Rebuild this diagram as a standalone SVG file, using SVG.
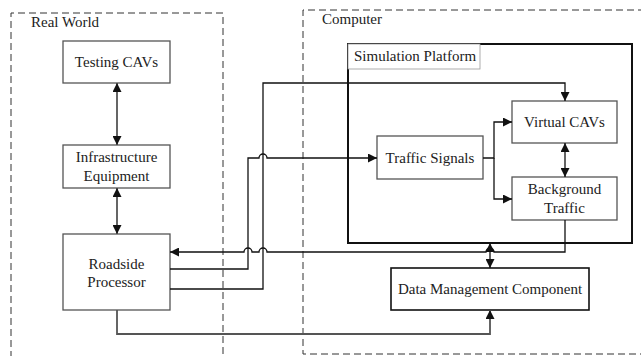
<svg xmlns="http://www.w3.org/2000/svg" width="641" height="356" viewBox="0 0 641 356">
<style>
text{font-family:"Liberation Serif","Times New Roman",serif;font-size:15px;fill:#222}
.box{fill:#fff;stroke:#555;stroke-width:1.3}
.dash{fill:none;stroke:#333;stroke-width:1;stroke-dasharray:7,4}
.con{fill:none;stroke:#111;stroke-width:1.3}
.gcon{fill:none;stroke:#555;stroke-width:1.8}
</style>
<defs>
<marker id="ah" viewBox="0 0 10 10" refX="10" refY="5" markerWidth="9" markerHeight="9" markerUnits="userSpaceOnUse" orient="auto-start-reverse">
<path d="M0,0 L10,5 L0,10 z" fill="#111"/>
</marker>
</defs>
<rect width="641" height="356" fill="#fff"/>
<g id="real-world">
<path class="dash" d="M11,358 V13 H223 V358"/>
<text x="31" y="27">Real World</text>
</g>
<g id="computer">
<path class="dash" d="M645,10 H303 V354 H645"/>
<text x="322" y="24">Computer</text>
</g>
<g id="simulation-platform">
<rect x="348" y="44" width="284" height="199" fill="#fff" stroke="#111" stroke-width="2"/>
<rect x="348" y="44" width="132" height="25" fill="#fff" stroke="#999" stroke-width="0.8"/>
<text x="354" y="61">Simulation Platform</text>
</g>
<g id="testing-cavs">
<rect class="box" x="63" y="41" width="107" height="42"/>
<text x="116.5" y="67" text-anchor="middle">Testing CAVs</text>
</g>
<g id="infrastructure-equipment">
<rect class="box" x="63" y="145" width="107" height="43"/>
<text x="116.5" y="162" text-anchor="middle">Infrastructure</text>
<text x="116.5" y="181" text-anchor="middle">Equipment</text>
</g>
<g id="roadside-processor">
<rect class="box" x="63" y="234" width="107" height="76"/>
<text x="116.5" y="269" text-anchor="middle">Roadside</text>
<text x="116.5" y="287" text-anchor="middle">Processor</text>
</g>
<g id="traffic-signals">
<rect class="box" x="377" y="136" width="106" height="43"/>
<text x="430" y="163" text-anchor="middle">Traffic Signals</text>
</g>
<g id="virtual-cavs">
<rect class="box" x="512" y="101" width="105" height="42"/>
<text x="564.5" y="127" text-anchor="middle">Virtual CAVs</text>
</g>
<g id="background-traffic">
<rect class="box" x="512" y="177" width="105" height="43"/>
<text x="564.5" y="194" text-anchor="middle">Background</text>
<text x="564.5" y="213" text-anchor="middle">Traffic</text>
</g>
<g id="data-management-component">
<rect x="391" y="268" width="198" height="42" fill="#fff" stroke="#111" stroke-width="1.6"/>
<text x="490" y="294" text-anchor="middle">Data Management Component</text>
</g>
<g id="connectors">
<path class="gcon" d="M117,83 V145" marker-start="url(#ah)" marker-end="url(#ah)"/>
<path class="gcon" d="M117,188 V234" marker-start="url(#ah)" marker-end="url(#ah)"/>
<path class="con" d="M565,143 V177" marker-start="url(#ah)" marker-end="url(#ah)"/>
<path class="con" d="M490,243 V268" marker-start="url(#ah)" marker-end="url(#ah)"/>
<path class="con" d="M483,158 H494 V122 H512" marker-end="url(#ah)"/>
<path class="con" d="M494,158 V199 H512" marker-end="url(#ah)"/>
<path class="con" d="M565,220 V252 H494 A4,4 0 0 0 486,252 H267 A4,4 0 0 0 259,252 H252 A4,4 0 0 0 244,252 H170" marker-end="url(#ah)"/>
<path class="con" d="M170,269 H248 V158 H259 A4,4 0 0 1 267,158 H377" marker-end="url(#ah)"/>
<path class="con" d="M170,289 H263 V83 H565 V101" marker-end="url(#ah)"/>
<path class="gcon" d="M117,310 V334 H490 V310" marker-end="url(#ah)"/>
</g>
</svg>
